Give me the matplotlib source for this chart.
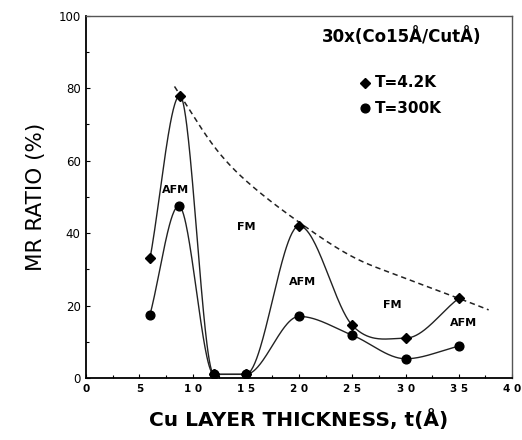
import numpy as np
import matplotlib
matplotlib.use("Agg")
import matplotlib.pyplot as plt

# ---- data ----
t_42K = [6, 8.8, 12, 15, 20, 25, 30, 35]
mr_42K = [33, 78, 1, 1, 42, 14.5, 11, 22]
t_300K = [6, 8.7, 12, 15, 20, 25, 30, 35]
mr_300K = [17.5, 47.5, 1, 1, 17, 11.8, 5.3, 8.8]
env_t = [8.3, 12, 15, 20, 25, 30, 35, 37.8]
env_mr = [80.5, 64, 54.5, 43, 33.5, 27.5, 22, 18.8]
x_ticks = [0, 5, 10, 15, 20, 25, 30, 35, 40]
x_ticklabels = ["0", "5", "1 0", "1 5", "2 0", "2 5", "3 0", "3 5", "4 0"]
y_ticks = [0, 20, 40, 60, 80, 100]
regions = ["AFM", "FM", "AFM", "FM", "AFM"]
region_t = [8.4, 15.0, 20.3, 28.7, 35.4]
region_mr = [52, 41.8, 26.6, 20.2, 15.3]


def smooth(xs, ys, n=60):
    xs = np.asarray(xs, float)
    ys = np.asarray(ys, float)
    k = len(xs)
    m = np.zeros(k)
    for i in range(k):
        if i == 0:
            m[i] = (ys[1] - ys[0]) / (xs[1] - xs[0])
        elif i == k - 1:
            m[i] = (ys[-1] - ys[-2]) / (xs[-1] - xs[-2])
        else:
            d0 = ys[i] - ys[i - 1]
            d1 = ys[i + 1] - ys[i]
            if d0 * d1 <= 0:
                m[i] = 0.0
            else:
                m[i] = (ys[i + 1] - ys[i - 1]) / (xs[i + 1] - xs[i - 1])
    X, Y = [], []
    for i in range(k - 1):
        h = xs[i + 1] - xs[i]
        s = np.linspace(0, 1, n)
        h00 = 2 * s**3 - 3 * s**2 + 1
        h10 = s**3 - 2 * s**2 + s
        h01 = -2 * s**3 + 3 * s**2
        h11 = s**3 - s**2
        X.append(xs[i] + s * h)
        Y.append(h00 * ys[i] + h10 * h * m[i] + h01 * ys[i + 1] + h11 * h * m[i + 1])
    return np.concatenate(X), np.concatenate(Y)


plt.rcParams["font.family"] = ["DejaVu Sans"]
fig = plt.figure(figsize=(5.22, 4.4), dpi=100)
ax = fig.add_axes([0.165, 0.141, 0.816, 0.823])

x, y = smooth(t_42K, mr_42K)
ax.plot(x, y, color="#222222", lw=1.0)
x, y = smooth(t_300K, mr_300K)
ax.plot(x, y, color="#222222", lw=1.0)
x, y = smooth(env_t, env_mr)
ax.plot(x, y, color="#222222", lw=1.1, ls=(0, (3.5, 2.5)))

ax.plot(t_42K, mr_42K, ls="none", marker="D", ms=5.5, color="black")
ax.plot(t_300K, mr_300K, ls="none", marker="o", ms=6.3, color="black")

for lab, tx, ty in zip(regions, region_t, region_mr):
    ax.text(tx, ty, lab, ha="center", va="center", fontsize=8, fontweight="bold")

ax.text(29.6, 94.3, "30x(Co15Å/CutÅ)", ha="center", va="center",
        fontsize=12, fontweight="bold")
ax.plot([26.2], [81.5], marker="D", ms=5.5, color="black", ls="none")
ax.text(27.1, 81.5, "T=4.2K", ha="left", va="center", fontsize=11, fontweight="bold")
ax.plot([26.2], [74.5], marker="o", ms=6.3, color="black", ls="none")
ax.text(27.1, 74.5, "T=300K", ha="left", va="center", fontsize=11, fontweight="bold")

ax.set_xlim(0, 40)
ax.set_ylim(0, 100)
ax.set_xticks(x_ticks)
ax.set_xticklabels(x_ticklabels, fontsize=7.5, fontweight="bold")
ax.set_yticks(y_ticks)
ax.set_yticklabels([str(v) for v in y_ticks], fontsize=8.5)
ax.set_xticks(np.arange(0, 40.1, 2.5), minor=True)
ax.set_yticks(np.arange(0, 100.1, 10), minor=True)
ax.tick_params(axis="both", which="both", direction="in", length=3, width=0.8, pad=4)
ax.tick_params(axis="both", which="minor", length=2)

for s in ["left", "bottom"]:
    ax.spines[s].set_linewidth(1.3)
    ax.spines[s].set_color("black")
for s in ["top", "right"]:
    ax.spines[s].set_linewidth(1.0)
    ax.spines[s].set_color("#555555")

ax.set_xlabel("Cu LAYER THICKNESS, t(Å)", fontsize=14.5, fontweight="bold", labelpad=11)
ax.set_ylabel("MR RATIO (%)", fontsize=15.5, labelpad=9)

fig.savefig("out.png", dpi=100)
